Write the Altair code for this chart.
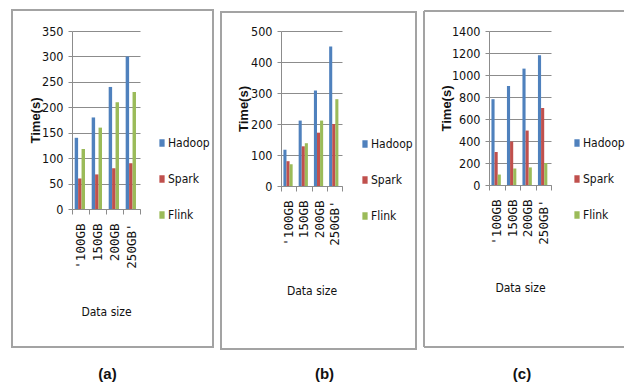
import altair as alt
import pandas as pd

# ---- data -------------------------------------------------------------
sizes = ["'100GB", "150GB", "200GB", "250GB'"]
systems = ["Hadoop", "Spark", "Flink"]
colors = ["#4F81BD", "#C0504D", "#9BBB59"]

hadoop_a = [140, 180, 240, 300]
spark_a = [60, 68, 80, 90]
flink_a = [118, 160, 210, 230]

hadoop_b = [117, 211, 308, 450]
spark_b = [80, 128, 172, 200]
flink_b = [70, 138, 211, 280]

hadoop_c = [780, 900, 1058, 1180]
spark_c = [300, 395, 495, 700]
flink_c = [95, 150, 160, 200]

y_max = [350, 500, 1400]
y_step = [50, 100, 200]
panel_labels = ["(a)", "(b)", "(c)"]
y_title = "Time(s)"
x_title = "Data size"

# ---- style ------------------------------------------------------------
NARROW = "DejaVu Sans Condensed, Liberation Sans Narrow, sans-serif"
MONO = "DejaVu Sans Mono, Liberation Mono, monospace"
BOLD = "Liberation Sans, Arial, sans-serif"
GRID = "#8c8c8c"
BORDER = "#a3a3a3"
TXT = "#111111"
KEY = "M-0.7,-1H0.7V1H-0.7Z"

# per panel geometry (plot width/height, border box relative to plot origin, etc.)
geo = [
    dict(w=68, h=178, bx=(-60, 141), by=(-21, 316), lx=84, ly=106, tx=-37, dy=102, px=35.5, py=343, right=True),
    dict(w=61, h=155, bx=(-60, 135), by=(-19, 318), lx=78, ly=107, tx=-38, dy=104, px=43.5, py=343, right=True),
    dict(w=62, h=154, bx=(-65, 135), by=(-20, 316), lx=82, ly=106, tx=-43, dy=102, px=33, py=343, right=False),
]
series = [(hadoop_a, spark_a, flink_a), (hadoop_b, spark_b, flink_b), (hadoop_c, spark_c, flink_c)]


def panel(i):
    g = geo[i]
    h_, s_, f_ = series[i]
    df = pd.DataFrame({
        "size": sizes * 3,
        "system": [s for s in systems for _ in sizes],
        "time": h_ + s_ + f_,
    })
    one = pd.DataFrame({"label": [panel_labels[i]]})

    bars = alt.Chart(df).mark_bar().encode(
        x=alt.X("size:N", sort=sizes, title=x_title,
                scale=alt.Scale(paddingInner=0, paddingOuter=0),
                axis=alt.Axis(labelAngle=-90, labelFont=MONO, labelFontSize=12.5,
                              labelColor=TXT, labelPadding=9, tickBand="extent",
                              tickSize=5, tickColor=GRID, domainColor=GRID,
                              titleFont=NARROW, titleFontSize=12, titleFontWeight="normal",
                              titleColor=TXT, titleY=g["dy"], titleBaseline="middle")),
        xOffset=alt.XOffset("system:N", sort=systems,
                            scale=alt.Scale(paddingInner=0, paddingOuter=0.975, align=0.4)),
        y=alt.Y("time:Q", scale=alt.Scale(domain=[0, y_max[i]], nice=False),
                axis=alt.Axis(values=list(range(0, y_max[i] + 1, y_step[i])), format="d",
                              grid=True, gridColor=GRID, domainColor=GRID, tickColor=GRID,
                              tickSize=4, labelFont=NARROW, labelFontSize=12.5, labelColor=TXT,
                              labelPadding=5, title=y_title, titleFont=BOLD,
                              titleFontWeight="bold", titleFontSize=13, titleColor=TXT,
                              titleX=g["tx"], titleY=g["h"] / 2, titleBaseline="middle",
                              titleAngle=270)),
        color=alt.Color("system:N", sort=systems,
                        scale=alt.Scale(domain=systems, range=colors),
                        legend=alt.Legend(title=None, orient="none", legendX=g["lx"],
                                          legendY=g["ly"], direction="vertical",
                                          symbolType=KEY, symbolSize=56, symbolStrokeWidth=0,
                                          labelFont=NARROW, labelFontSize=12, labelColor=TXT,
                                          rowPadding=24, labelOffset=0, padding=0)),
    )

    bx0, bx1 = g["bx"]
    by0, by1 = g["by"]
    if g["right"]:
        border = alt.Chart(one).mark_rect(filled=False, stroke=BORDER, strokeWidth=2).encode(
            x=alt.value(bx0), x2=alt.value(bx1), y=alt.value(by0), y2=alt.value(by1))
        layers = [border]
    else:
        top = alt.Chart(one).mark_rule(stroke=BORDER, strokeWidth=2).encode(
            x=alt.value(bx0), x2=alt.value(bx1), y=alt.value(by0))
        left = alt.Chart(one).mark_rule(stroke=BORDER, strokeWidth=2).encode(
            x=alt.value(bx0), y=alt.value(by0), y2=alt.value(by1))
        bottom = alt.Chart(one).mark_rule(stroke=BORDER, strokeWidth=2).encode(
            x=alt.value(bx0), x2=alt.value(bx1), y=alt.value(by1))
        layers = [top, left, bottom]

    lab = alt.Chart(one).mark_text(font=BOLD, fontSize=15, fontWeight="bold", color=TXT,
                                   baseline="middle", align="center").encode(
        text="label:N", x=alt.value(g["px"]), y=alt.value(g["py"]))

    return alt.layer(*layers, bars, lab).properties(width=g["w"], height=g["h"])


chart = alt.hconcat(panel(0), panel(1), panel(2), spacing=6).resolve_scale(
    x="independent", y="independent", color="independent", xOffset="independent"
).resolve_legend(color="independent").properties(
    padding={"left": 11, "top": 9, "right": 0, "bottom": 0},
    background="white",
).configure_view(stroke=None)

chart.save("out.html", embed_options={"renderer": "svg", "actions": False})
